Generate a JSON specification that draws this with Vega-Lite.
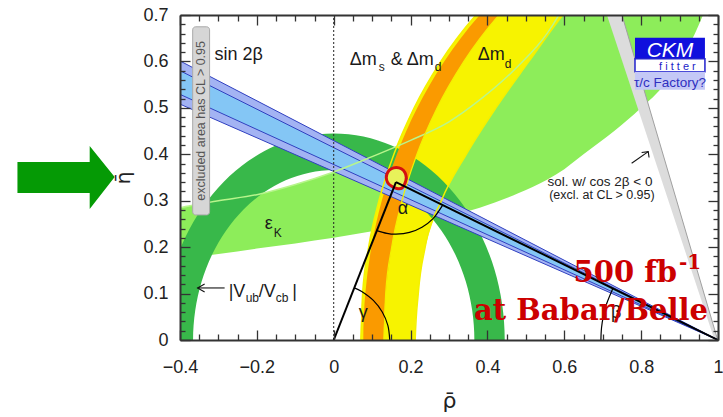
{
  "$schema": "https://vega.github.io/schema/vega-lite/v6.json",
  "width": 538,
  "height": 325,
  "autosize": {"type": "none"},
  "padding": {"left": 180, "top": 15, "right": 5, "bottom": 77},
  "background": "white",
  "config": {"view": {"stroke": null}, "text": {"font": "Liberation Sans"}},
  "datasets": {
    "eK": [
      {"r": -0.42, "e": 0.173, "e2": 0.282}, {"r": -0.4, "e": 0.175, "e2": 0.285},
      {"r": -0.3, "e": 0.185, "e2": 0.300}, {"r": -0.2, "e": 0.197, "e2": 0.313},
      {"r": -0.1, "e": 0.208, "e2": 0.335}, {"r": 0, "e": 0.220, "e2": 0.362},
      {"r": 0.1, "e": 0.234, "e2": 0.395}, {"r": 0.2, "e": 0.250, "e2": 0.430},
      {"r": 0.3, "e": 0.267, "e2": 0.470}, {"r": 0.38, "e": 0.285, "e2": 0.517},
      {"r": 0.48, "e": 0.316, "e2": 0.590}, {"r": 0.555, "e": 0.345, "e2": 0.660},
      {"r": 0.6, "e": 0.368, "e2": 0.720}, {"r": 0.65, "e": 0.400, "e2": 0.800},
      {"r": 0.73, "e": 0.450, "e2": 0.900}, {"r": 0.8, "e": 0.500, "e2": 0.950},
      {"r": 0.86, "e": 0.550, "e2": 1.0}, {"r": 0.9, "e": 0.600, "e2": 1.0},
      {"r": 0.94, "e": 0.660, "e2": 1.0}, {"r": 0.961, "e": 0.700, "e2": 1.0},
      {"r": 0.98, "e": 0.740, "e2": 1.0}, {"r": 1.0, "e": 0.780, "e2": 1.0}
    ],
    "gray": [
      {"r": 0.703, "e": 0.72}, {"r": 0.743, "e": 0.72}, {"r": 1.001, "e": -0.005}, {"r": 0.993, "e": -0.005}
    ],
    "ringY": [
      {"e": -0.03, "r": 0.0705, "r2": 0.212}, {"e": 0, "r": 0.070, "r2": 0.212},
      {"e": 0.1, "r": 0.0752, "r2": 0.220}, {"e": 0.2, "r": 0.0909, "r2": 0.238},
      {"e": 0.3, "r": 0.1177, "r2": 0.280}, {"e": 0.4, "r": 0.1566, "r2": 0.345},
      {"e": 0.5, "r": 0.2093, "r2": 0.422}, {"e": 0.6, "r": 0.2787, "r2": 0.508},
      {"e": 0.7, "r": 0.3699, "r2": 0.596}, {"e": 0.73, "r": 0.403, "r2": 0.625}
    ],
    "ringO": [
      {"e": -0.03, "r": 0.0775, "r2": 0.1305}, {"e": 0, "r": 0.077, "r2": 0.130},
      {"e": 0.1, "r": 0.0822, "r2": 0.1352}, {"e": 0.2, "r": 0.0981, "r2": 0.1509},
      {"e": 0.3, "r": 0.1251, "r2": 0.1777}, {"e": 0.4, "r": 0.1643, "r2": 0.2166},
      {"e": 0.5, "r": 0.2175, "r2": 0.2693}, {"e": 0.6, "r": 0.2876, "r2": 0.3387},
      {"e": 0.7, "r": 0.380, "r2": 0.4299}, {"e": 0.73, "r": 0.4135, "r2": 0.463}
    ],
    "ringG": [
      {"r": 0.4182, "e": -0.1522}, {"r": 0.4382, "e": -0.0773}, {"r": 0.445, "e": 0},
      {"r": 0.4382, "e": 0.0773}, {"r": 0.4182, "e": 0.1522}, {"r": 0.3854, "e": 0.2225},
      {"r": 0.3409, "e": 0.2860}, {"r": 0.2860, "e": 0.3409}, {"r": 0.2225, "e": 0.3854},
      {"r": 0.1522, "e": 0.4182}, {"r": 0.0773, "e": 0.4382}, {"r": 0, "e": 0.445},
      {"r": -0.0773, "e": 0.4382}, {"r": -0.1522, "e": 0.4182}, {"r": -0.2225, "e": 0.3854},
      {"r": -0.2860, "e": 0.3409}, {"r": -0.3409, "e": 0.2860}, {"r": -0.3854, "e": 0.2225},
      {"r": -0.4182, "e": 0.1522}, {"r": -0.4382, "e": 0.0773}, {"r": -0.445, "e": 0},
      {"r": -0.4382, "e": -0.0773}, {"r": -0.4182, "e": -0.1522},
      {"r": -0.3439, "e": -0.1252}, {"r": -0.3604, "e": -0.0635}, {"r": -0.366, "e": 0},
      {"r": -0.3604, "e": 0.0635}, {"r": -0.3439, "e": 0.1252}, {"r": -0.3170, "e": 0.1830},
      {"r": -0.2804, "e": 0.2353}, {"r": -0.2353, "e": 0.2804}, {"r": -0.1830, "e": 0.3170},
      {"r": -0.1252, "e": 0.3439}, {"r": -0.0635, "e": 0.3604}, {"r": 0, "e": 0.366},
      {"r": 0.0635, "e": 0.3604}, {"r": 0.1252, "e": 0.3439}, {"r": 0.1830, "e": 0.3170},
      {"r": 0.2353, "e": 0.2804}, {"r": 0.2804, "e": 0.2353}, {"r": 0.3170, "e": 0.1830},
      {"r": 0.3439, "e": 0.1252}, {"r": 0.3604, "e": 0.0635}, {"r": 0.366, "e": 0},
      {"r": 0.3604, "e": -0.0635}, {"r": 0.3439, "e": -0.1252}
    ],
    "blueO": [{"r": -0.45, "e": 0.6225}, {"r": 1, "e": 0}, {"r": -0.45, "e": 0.5262}],
    "blueI": [{"r": -0.45, "e": 0.6007}, {"r": 1, "e": 0}, {"r": -0.45, "e": 0.548}],
    "blueL": [
      {"g": 1, "r": -0.45, "e": 0.6225}, {"g": 1, "r": 1, "e": 0},
      {"g": 2, "r": -0.45, "e": 0.6007}, {"g": 2, "r": 1, "e": 0},
      {"g": 3, "r": -0.45, "e": 0.548}, {"g": 3, "r": 1, "e": 0},
      {"g": 4, "r": -0.45, "e": 0.5262}, {"g": 4, "r": 1, "e": 0}
    ],
    "dotted": [{"r": 0, "e": 0}, {"r": 0, "e": 0.7}],
    "apex": [
      {"r": 0.1888, "e": 0.3502}, {"r": 0.1853, "e": 0.3610}, {"r": 0.1758, "e": 0.3689},
      {"r": 0.1628, "e": 0.3718}, {"r": 0.1498, "e": 0.3689}, {"r": 0.1403, "e": 0.3610},
      {"r": 0.1368, "e": 0.3502}, {"r": 0.1403, "e": 0.3394}, {"r": 0.1498, "e": 0.3315},
      {"r": 0.1640, "e": 0.3262}, {"r": 0.1780, "e": 0.3272}, {"r": 0.1860, "e": 0.3390}
    ],
    "tri": [
      {"g": 1, "r": 0, "e": 0}, {"g": 1, "r": 0.162, "e": 0.34},
      {"g": 2, "r": 0.162, "e": 0.34}, {"g": 2, "r": 1, "e": 0}
    ],
    "arcs": [
      {"g": "g", "r": 0.1458, "e": 0}, {"g": "g", "r": 0.1409, "e": 0.0313}, {"g": "g", "r": 0.1263, "e": 0.0603},
      {"g": "g", "r": 0.1031, "e": 0.0853}, {"g": "g", "r": 0.0729, "e": 0.1045}, {"g": "g", "r": 0.0535, "e": 0.1123},
      {"g": "a", "r": 0.2836, "e": 0.2906}, {"g": "a", "r": 0.2578, "e": 0.2607}, {"g": "a", "r": 0.2297, "e": 0.2430},
      {"g": "a", "r": 0.1972, "e": 0.2318}, {"g": "a", "r": 0.162, "e": 0.2279}, {"g": "a", "r": 0.1385, "e": 0.2297},
      {"g": "a", "r": 0.1123, "e": 0.2357},
      {"g": "b", "r": 0.6953, "e": 0}, {"g": "b", "r": 0.6969, "e": 0.0263}, {"g": "b", "r": 0.7020, "e": 0.0524},
      {"g": "b", "r": 0.7102, "e": 0.0780}, {"g": "b", "r": 0.7263, "e": 0.1110}
    ],
    "arrows": [
      {"g": 1, "r": -0.2839, "e": 0.1121}, {"g": 1, "r": -0.3542, "e": 0.1121},
      {"g": 2, "r": -0.3359, "e": 0.1207}, {"g": 2, "r": -0.3542, "e": 0.1121}, {"g": 2, "r": -0.3359, "e": 0.1034},
      {"g": 3, "r": 0.7753, "e": 0.3808}, {"g": 3, "r": 0.8185, "e": 0.4058},
      {"g": 4, "r": 0.8013, "e": 0.4037}, {"g": 4, "r": 0.8185, "e": 0.4058}, {"g": 4, "r": 0.8206, "e": 0.3931}
    ],
    "garrow": [
      {"r": -0.823, "e": 0.3836}, {"r": -0.635, "e": 0.3836}, {"r": -0.635, "e": 0.418},
      {"r": -0.570, "e": 0.351}, {"r": -0.635, "e": 0.282}, {"r": -0.635, "e": 0.3168},
      {"r": -0.823, "e": 0.3168}
    ],
    "rects": [
      {"k": "gbox", "r": -0.367, "r2": -0.323, "e": 0.2694, "e2": 0.6746},
      {"k": "ckm1", "r": 0.784, "r2": 0.966, "e": 0.6056, "e2": 0.651},
      {"k": "ckm2", "r": 0.784, "r2": 0.966, "e": 0.5776, "e2": 0.6056},
      {"k": "ckm3", "r": 0.784, "r2": 0.966, "e": 0.539, "e2": 0.5776}
    ],
    "tMain": [
      {"r": -0.31, "e": 0.6034, "t": "sin 2β"},
      {"r": 0.0417, "e": 0.5927, "t": "Δm"},
      {"r": 0.1484, "e": 0.5927, "t": "&"},
      {"r": 0.1901, "e": 0.5927, "t": "Δm"},
      {"r": 0.375, "e": 0.6034, "t": "Δm"},
      {"r": -0.1797, "e": 0.2392, "t": "ε"},
      {"r": -0.2734, "e": 0.0927, "t": "|V"},
      {"r": -0.1953, "e": 0.0927, "t": "/V"},
      {"r": -0.108, "e": 0.0927, "t": "|"},
      {"r": 0.1667, "e": 0.2716, "t": "α"},
      {"r": 0.0651, "e": 0.0474, "t": "γ"},
      {"r": 0.7213, "e": 0.047, "t": "β"}
    ],
    "tSub": [
      {"r": 0.1172, "e": 0.5797, "t": "s"},
      {"r": 0.2630, "e": 0.5797, "t": "d"},
      {"r": 0.4453, "e": 0.5862, "t": "d"},
      {"r": -0.1563, "e": 0.222, "t": "K"},
      {"r": -0.2292, "e": 0.0819, "t": "ub"},
      {"r": -0.1510, "e": 0.0819, "t": "cb"}
    ],
    "tRed": [
      {"r": 0.8932, "e": 0.125, "t": "500 fb"},
      {"r": 0.974, "e": 0.0431, "t": "at Babar/Belle"}
    ],
    "tSup": [{"r": 0.8984, "e": 0.153, "t": "-1"}],
    "tSol": [{"r": 0.693, "e": 0.332, "t": "sol. w/ cos 2β < 0"}],
    "tExcl": [{"r": 0.698, "e": 0.304, "t": "(excl. at CL > 0.95)"}],
    "tCKM": [{"r": 0.875, "e": 0.61, "t": "CKM"}],
    "tFit": [{"r": 0.8945, "e": 0.582, "t": "f i t t e r"}],
    "tTau": [{"r": 0.875, "e": 0.5453, "t": "τ/c Factory?"}],
    "tBox": [{"r": -0.345, "e": 0.472, "t": "excluded area has CL > 0.95"}]
  },
  "encoding": {
    "x": {"field": "r", "type": "quantitative", "scale": {"domain": [-0.4, 1], "nice": false, "zero": false}, "axis": null},
    "y": {"field": "e", "type": "quantitative", "scale": {"domain": [0, 0.7], "nice": false, "zero": false}, "axis": null}
  },
  "layer": [
    {
      "data": {"name": "eK"},
      "mark": {"type": "area", "color": "#8ded5a", "interpolate": "monotone", "clip": true},
      "encoding": {"y2": {"field": "e2"}}
    },
    {
      "data": {"name": "gray"},
      "mark": {"type": "line", "filled": true, "fill": "#dcdcdc", "stroke": "#a0a0a0", "strokeWidth": 1, "clip": true},
      "encoding": {"order": {"value": null}}
    },
    {
      "data": {"name": "ringY"},
      "mark": {"type": "area", "orient": "horizontal", "color": "#f7f300", "interpolate": "monotone", "clip": true},
      "encoding": {"x2": {"field": "r2"}}
    },
    {
      "data": {"name": "ringG"},
      "mark": {"type": "line", "filled": true, "fill": "#38b84a", "interpolate": "cardinal", "clip": true},
      "encoding": {"order": {"value": null}}
    },
    {
      "data": {"name": "ringO"},
      "mark": {"type": "area", "orient": "horizontal", "color": "#fa9a00", "interpolate": "monotone", "clip": true},
      "encoding": {"x2": {"field": "r2"}}
    },
    {
      "data": {"name": "blueO"},
      "mark": {"type": "line", "filled": true, "fill": "#a3b3f3", "clip": true},
      "encoding": {"order": {"value": null}}
    },
    {
      "data": {"name": "blueI"},
      "mark": {"type": "line", "filled": true, "fill": "#84c6f5", "clip": true},
      "encoding": {"order": {"value": null}}
    },
    {
      "data": {"name": "blueL"},
      "mark": {"type": "line", "color": "#3040c0", "strokeWidth": 1, "clip": true},
      "encoding": {"detail": {"field": "g", "type": "nominal"}}
    },
    {
      "data": {"name": "eK"},
      "transform": [{"filter": "datum.r <= 0.7"}],
      "mark": {"type": "line", "color": "#b8f58c", "strokeWidth": 1.5, "interpolate": "monotone", "clip": true},
      "encoding": {"y": {"field": "e2", "type": "quantitative", "scale": {"domain": [0, 0.7], "nice": false, "zero": false}, "axis": null}}
    },
    {
      "data": {"name": "ringY"},
      "mark": {"type": "line", "color": "#f4f000", "strokeWidth": 1.5, "interpolate": "monotone", "clip": true},
      "encoding": {"order": {"value": null}}
    },
    {
      "data": {"name": "ringY"},
      "mark": {"type": "line", "color": "#f4f000", "strokeWidth": 1.5, "interpolate": "monotone", "clip": true},
      "encoding": {"x": {"field": "r2", "type": "quantitative", "scale": {"domain": [-0.4, 1], "nice": false, "zero": false}, "axis": null}, "order": {"value": null}}
    },
    {
      "data": {"name": "ringO"},
      "mark": {"type": "line", "color": "#f4f000", "strokeWidth": 1.2, "interpolate": "monotone", "clip": true},
      "encoding": {"x": {"field": "r2", "type": "quantitative", "scale": {"domain": [-0.4, 1], "nice": false, "zero": false}, "axis": null}, "order": {"value": null}}
    },
    {
      "data": {"name": "dotted"},
      "mark": {"type": "line", "color": "#222222", "strokeWidth": 1, "strokeDash": [2, 2]},
      "encoding": {
        "x": {
          "field": "r", "type": "quantitative", "scale": {"domain": [-0.4, 1], "nice": false, "zero": false},
          "axis": {
            "orient": "bottom", "zindex": 1,
            "values": [-0.4, -0.35, -0.3, -0.25, -0.2, -0.15, -0.1, -0.05, 0, 0.05, 0.1, 0.15, 0.2, 0.25, 0.3, 0.35, 0.4, 0.45, 0.5, 0.55, 0.6, 0.65, 0.7, 0.75, 0.8, 0.85, 0.9, 0.95, 1],
            "format": "~g",
            "labelExpr": "abs(datum.value*5-round(datum.value*5))<0.001 ? datum.label : ''",
            "labelFont": "Liberation Sans", "labelFontSize": 18, "labelColor": "#222222",
            "labelPadding": 28, "labelOverlap": false, "labelFlush": false,
            "tickSize": {"condition": {"test": "abs(datum.value*5-round(datum.value*5))<0.001", "value": -10}, "value": -6},
            "tickColor": "#333333", "tickWidth": 1.3,
            "domainColor": "#333333", "domainWidth": 2, "grid": false,
            "title": "ρ̄", "titleFont": "DejaVu Sans", "titleFontSize": 22, "titleFontWeight": "normal",
            "titleColor": "#222222", "titleX": 269, "titleY": 60, "titleBaseline": "middle", "titleAlign": "center"
          }
        },
        "y": {
          "field": "e", "type": "quantitative", "scale": {"domain": [0, 0.7], "nice": false, "zero": false},
          "axis": {
            "orient": "left", "zindex": 1,
            "values": [0, 0.02, 0.04, 0.06, 0.08, 0.1, 0.12, 0.14, 0.16, 0.18, 0.2, 0.22, 0.24, 0.26, 0.28, 0.3, 0.32, 0.34, 0.36, 0.38, 0.4, 0.42, 0.44, 0.46, 0.48, 0.5, 0.52, 0.54, 0.56, 0.58, 0.6, 0.62, 0.64, 0.66, 0.68, 0.7],
            "format": "~g",
            "labelExpr": "abs(datum.value*10-round(datum.value*10))<0.001 ? datum.label : ''",
            "labelFont": "Liberation Sans", "labelFontSize": 18, "labelColor": "#222222",
            "labelPadding": 22, "labelOverlap": false, "labelFlush": false,
            "tickSize": {"condition": {"test": "abs(datum.value*10-round(datum.value*10))<0.001", "value": -10}, "value": -5},
            "tickColor": "#333333", "tickWidth": 1.3,
            "domainColor": "#333333", "domainWidth": 2, "grid": false,
            "title": "η̄", "titleFont": "DejaVu Sans", "titleFontSize": 20, "titleFontWeight": "normal",
            "titleColor": "#222222", "titleX": -57, "titleY": 162.5, "titleBaseline": "middle", "titleAlign": "center"
          }
        }
      }
    },
    {
      "data": {"name": "apex"},
      "mark": {"type": "line", "filled": true, "fill": "#e8f25a", "stroke": "#d41010", "strokeWidth": 3, "interpolate": "cardinal-closed", "clip": true},
      "encoding": {"order": {"value": null}}
    },
    {
      "data": {"name": "tri"},
      "mark": {"type": "line", "color": "#000000", "strokeWidth": 2, "clip": true},
      "encoding": {"detail": {"field": "g", "type": "nominal"}, "order": {"value": null}}
    },
    {
      "data": {"name": "arcs"},
      "mark": {"type": "line", "color": "#000000", "strokeWidth": 1.2, "interpolate": "cardinal", "clip": true},
      "encoding": {"detail": {"field": "g", "type": "nominal"}, "order": {"value": null}}
    },
    {
      "data": {"name": "arrows"},
      "mark": {"type": "line", "color": "#111111", "strokeWidth": 1.1, "clip": true},
      "encoding": {"detail": {"field": "g", "type": "nominal"}, "order": {"value": null}}
    },
    {
      "data": {"name": "rects"},
      "transform": [{"filter": "datum.k == 'gbox'"}],
      "mark": {"type": "rect", "fill": "#d6d6d6", "stroke": "#aaaaaa", "strokeWidth": 1, "cornerRadius": 3},
      "encoding": {"x2": {"field": "r2"}, "y2": {"field": "e2"}}
    },
    {
      "data": {"name": "rects"},
      "transform": [{"filter": "datum.k == 'ckm1'"}],
      "mark": {"type": "rect", "fill": "#1010dd"},
      "encoding": {"x2": {"field": "r2"}, "y2": {"field": "e2"}}
    },
    {
      "data": {"name": "rects"},
      "transform": [{"filter": "datum.k == 'ckm2'"}],
      "mark": {"type": "rect", "fill": "#ffffff", "stroke": "#2222cc", "strokeWidth": 1.5},
      "encoding": {"x2": {"field": "r2"}, "y2": {"field": "e2"}}
    },
    {
      "data": {"name": "rects"},
      "transform": [{"filter": "datum.k == 'ckm3'"}],
      "mark": {"type": "rect", "fill": "#c4c8f6"},
      "encoding": {"x2": {"field": "r2"}, "y2": {"field": "e2"}}
    },
    {
      "data": {"name": "tBox"},
      "mark": {"type": "text", "angle": 270, "align": "center", "baseline": "middle", "fontSize": 12.5, "color": "#555555"},
      "encoding": {"text": {"field": "t"}}
    },
    {
      "data": {"name": "tCKM"},
      "mark": {"type": "text", "align": "center", "baseline": "alphabetic", "fontSize": 21, "fontStyle": "italic", "color": "#ffffff"},
      "encoding": {"text": {"field": "t"}}
    },
    {
      "data": {"name": "tFit"},
      "mark": {"type": "text", "align": "center", "baseline": "alphabetic", "fontSize": 11, "color": "#1c1cc8"},
      "encoding": {"text": {"field": "t"}}
    },
    {
      "data": {"name": "tTau"},
      "mark": {"type": "text", "align": "center", "baseline": "alphabetic", "fontSize": 13.5, "color": "#2f2fc0"},
      "encoding": {"text": {"field": "t"}}
    },
    {
      "data": {"name": "tMain"},
      "mark": {"type": "text", "align": "left", "baseline": "alphabetic", "fontSize": 18, "color": "#1a1a1a"},
      "encoding": {"text": {"field": "t"}}
    },
    {
      "data": {"name": "tSub"},
      "mark": {"type": "text", "align": "left", "baseline": "alphabetic", "fontSize": 12, "color": "#1a1a1a"},
      "encoding": {"text": {"field": "t"}}
    },
    {
      "data": {"name": "tSol"},
      "mark": {"type": "text", "align": "center", "baseline": "alphabetic", "fontSize": 13.5, "color": "#222222"},
      "encoding": {"text": {"field": "t"}}
    },
    {
      "data": {"name": "tExcl"},
      "mark": {"type": "text", "align": "center", "baseline": "alphabetic", "fontSize": 12.5, "color": "#222222"},
      "encoding": {"text": {"field": "t"}}
    },
    {
      "data": {"name": "tRed"},
      "mark": {"type": "text", "align": "right", "baseline": "alphabetic", "font": "DejaVu Serif", "fontWeight": "bold", "fontSize": 29, "color": "#cc0000"},
      "encoding": {"text": {"field": "t"}}
    },
    {
      "data": {"name": "tSup"},
      "mark": {"type": "text", "align": "left", "baseline": "alphabetic", "font": "DejaVu Serif", "fontWeight": "bold", "fontSize": 20, "color": "#cc0000"},
      "encoding": {"text": {"field": "t"}}
    },
    {
      "data": {"name": "garrow"},
      "mark": {"type": "line", "filled": true, "fill": "#059a05", "clip": false},
      "encoding": {"order": {"value": null}}
    },
    {
      "data": {"name": "dotted"},
      "mark": {"type": "point", "opacity": 0},
      "encoding": {
        "x": {
          "field": "r", "type": "quantitative", "scale": {"domain": [-0.4, 1], "nice": false, "zero": false},
          "axis": {
            "orient": "top", "zindex": 1,
            "values": [-0.4, -0.35, -0.3, -0.25, -0.2, -0.15, -0.1, -0.05, 0, 0.05, 0.1, 0.15, 0.2, 0.25, 0.3, 0.35, 0.4, 0.45, 0.5, 0.55, 0.6, 0.65, 0.7, 0.75, 0.8, 0.85, 0.9, 0.95, 1],
            "labels": false, "title": null,
            "tickSize": {"condition": {"test": "abs(datum.value*5-round(datum.value*5))<0.001", "value": -10}, "value": -6},
            "tickColor": "#333333", "tickWidth": 1.3,
            "domainColor": "#333333", "domainWidth": 2, "grid": false
          }
        },
        "y": {
          "field": "e", "type": "quantitative", "scale": {"domain": [0, 0.7], "nice": false, "zero": false},
          "axis": {
            "orient": "right", "zindex": 1,
            "values": [0, 0.02, 0.04, 0.06, 0.08, 0.1, 0.12, 0.14, 0.16, 0.18, 0.2, 0.22, 0.24, 0.26, 0.28, 0.3, 0.32, 0.34, 0.36, 0.38, 0.4, 0.42, 0.44, 0.46, 0.48, 0.5, 0.52, 0.54, 0.56, 0.58, 0.6, 0.62, 0.64, 0.66, 0.68, 0.7],
            "labels": false, "title": null,
            "tickSize": {"condition": {"test": "abs(datum.value*10-round(datum.value*10))<0.001", "value": -10}, "value": -5},
            "tickColor": "#333333", "tickWidth": 1.3,
            "domainColor": "#333333", "domainWidth": 2, "grid": false
          }
        }
      }
    }
  ],
  "resolve": {"axis": {"x": "independent", "y": "independent"}}
}
